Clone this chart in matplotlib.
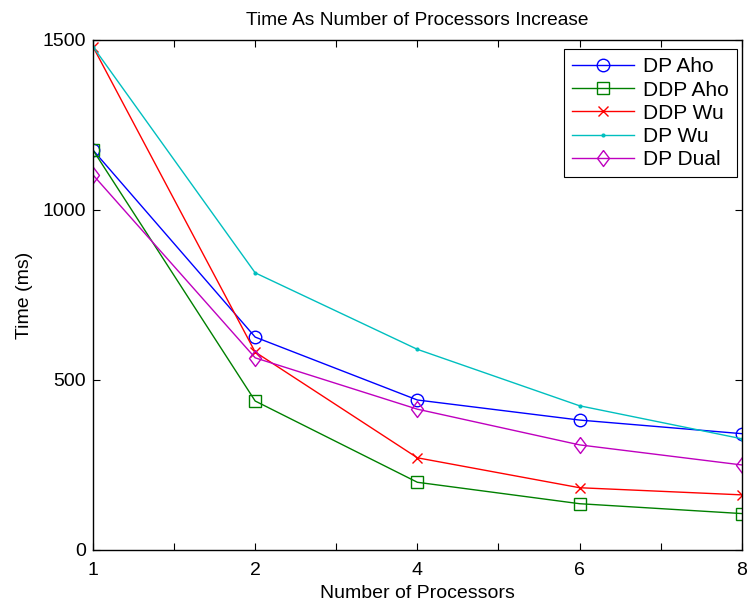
import matplotlib

matplotlib.use("Agg")
import matplotlib.pyplot as plt

plt.rcParams["font.family"] = ["Liberation Sans", "DejaVu Sans"]

# processor counts, plotted at evenly spaced positions
procs = ["1", "2", "4", "6", "8"]
dp_aho = [1176, 626, 441, 382, 342]
ddp_aho = [1176, 438, 199, 136, 107]
ddp_wu = [1480, 582, 271, 183, 162]
dp_wu = [1480, 815, 590, 424, 327]
dp_dual = [1103, 565, 414, 309, 250]

# MATLAB-style diamond: taller than wide
diamond = [(0, 1), (0.75, 0), (0, -1), (-0.75, 0), (0, 1)]

series = [
    ("DP Aho", dp_aho, "#0000ff", "o", dict(ms=9, mfc="none")),
    ("DDP Aho", ddp_aho, "#008000", "s", dict(ms=8, mfc="none")),
    ("DDP Wu", ddp_wu, "#ff0000", "x", dict(ms=6.5)),
    ("DP Wu", dp_wu, "#00bfbf", ".", dict(ms=4)),
    ("DP Dual", dp_dual, "#bf00bf", diamond, dict(ms=11.5, mfc="none")),
]

fig = plt.figure(figsize=(7.5, 6.05), dpi=100)
ax = fig.add_axes([0.124, 0.091, 0.865, 0.843])
xs = list(range(1, len(procs) + 1))
for name, ys, col, mk, kw in series:
    ax.plot(xs, ys, color=col, marker=mk, lw=1.0, mew=1.0, label=name, **kw)

ax.set_xlim(1, 5)
ax.set_ylim(0, 1500)
ticks = [1 + 0.5 * i for i in range(9)]
ax.set_xticks(ticks)
ax.set_xticklabels([procs[i // 2] if i % 2 == 0 else "" for i in range(9)])
ax.set_yticks([0, 500, 1000, 1500])
ax.tick_params(direction="in", top=True, right=True, labelsize=14, length=5, width=0.8)
ax.tick_params(axis="x", pad=9)
ax.tick_params(axis="y", pad=5)
for s in ax.spines.values():
    s.set_linewidth(1.0)
ax.set_xlabel("Number of Processors", fontsize=14, labelpad=4)
ax.set_ylabel("Time (ms)", fontsize=14, labelpad=7)
ax.set_title("Time As Number of Processors Increase", fontsize=13.8, pad=11)
leg = ax.legend(loc="upper right", bbox_to_anchor=(0.9923, 0.982), borderaxespad=0,
                fontsize=15, fancybox=False, framealpha=1, edgecolor="black",
                handlelength=3.0, handletextpad=0.4, labelspacing=0.2, borderpad=0.4)
leg.get_frame().set_linewidth(0.8)

fig.savefig("out.png", dpi=100)
